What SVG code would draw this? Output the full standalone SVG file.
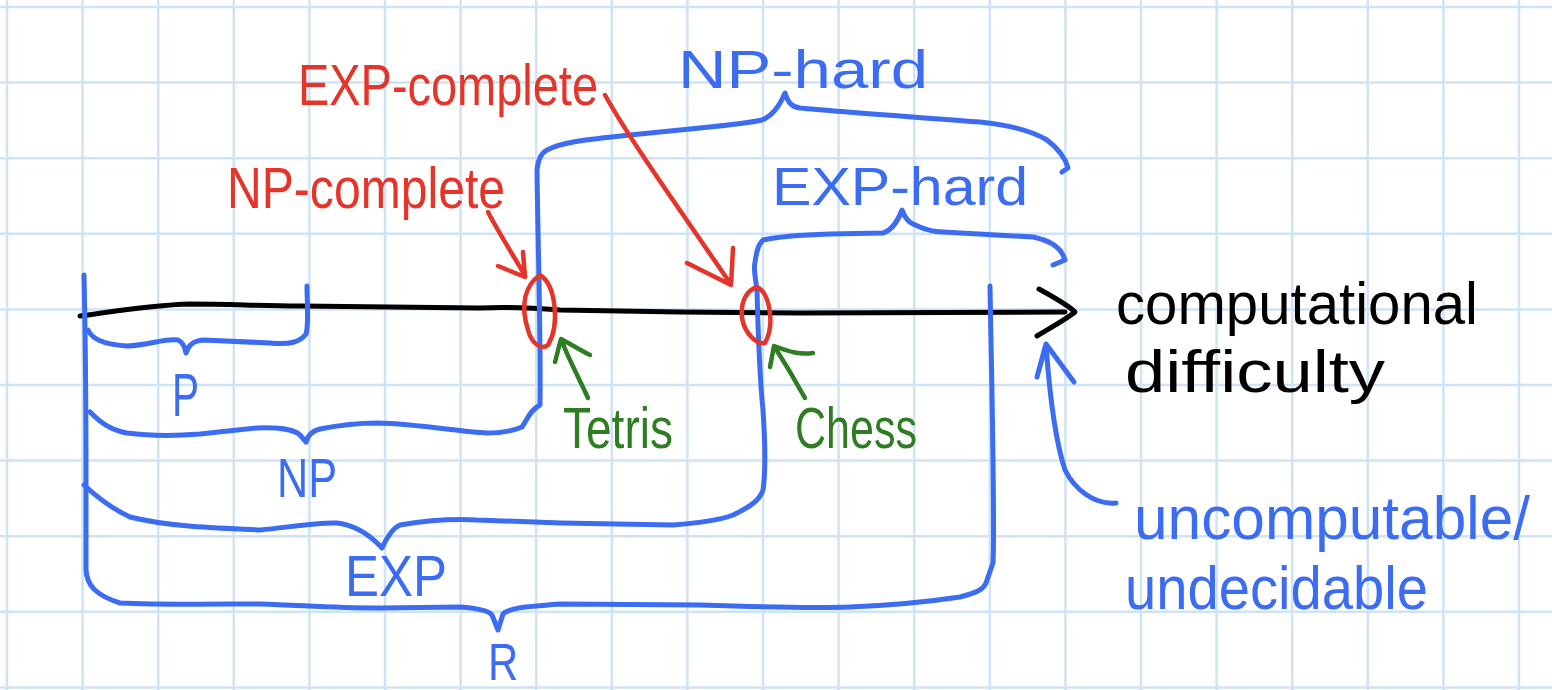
<svg xmlns="http://www.w3.org/2000/svg" width="1552" height="690" viewBox="0 0 1552 690">
<style>
.grid{stroke:#cfe3f6;stroke-width:2.5;fill:none}
.blue{stroke:#3b6cf2;stroke-width:5;fill:none;stroke-linecap:round;stroke-linejoin:round}
.red{stroke:#e5342a;stroke-width:4.5;fill:none;stroke-linecap:round;stroke-linejoin:round}
.green{stroke:#2e7d22;stroke-width:4.5;fill:none;stroke-linecap:round;stroke-linejoin:round}
.black{stroke:#000;stroke-width:5;fill:none;stroke-linecap:round;stroke-linejoin:round}
text{font-family:"Liberation Sans",Arial,sans-serif}
.tb{fill:#3b6cf2}.tr{fill:#e5342a}.tg{fill:#2e7d22}.tk{fill:#000}
</style>
<rect width="1552" height="690" fill="#fff"/>
<g id="grid">
<path class="grid" d="M7,0V690M82.6,0V690M158.2,0V690M233.8,0V690M309.4,0V690M385,0V690M460.6,0V690M536.2,0V690M611.8,0V690M687.4,0V690M763,0V690M838.6,0V690M914.2,0V690M989.8,0V690M1065.4,0V690M1141,0V690M1216.6,0V690M1292.2,0V690M1367.8,0V690M1443.4,0V690M1519,0V690M0,7H1552M0,82.6H1552M0,158.2H1552M0,233.8H1552M0,309.4H1552M0,385H1552M0,460.6H1552M0,536.2H1552M0,611.8H1552M0,687.4H1552"/>
</g>
<g id="connectors">
<path id="axis" class="black" d="M80,316 C110,312 150,305 190,304 C230,304 260,306 300,306 L480,308 C500,307 520,307 560,310 L680,312 L800,313 L1065,312"/>
<path id="axis-head" class="black" d="M1039,289 C1055,298 1068,305 1075,312 C1065,320 1050,328 1037,336"/>
<path id="bracket-R" class="blue" d="M84,275 C85,320 86,400 86,480 L86,570 C87,585 95,595 120,603 C160,605 220,604 260,604 C300,605 330,608 380,608 L460,607 C475,608 488,610 492,615 L498,630 L503,614 C510,608 520,607 560,604 L700,605 C760,607 820,608 850,607 C900,605 940,600 960,597 C975,593 985,590 987,580 L993,563 C995,520 992,400 990,286"/>
<path id="bracket-P" class="blue" d="M88,330 C92,338 100,344 127,346 C150,345 165,338 178,340 C183,342 185,348 186,353 C188,346 192,341 203,340 L270,343 C290,345 300,342 306,334 C309,325 307,300 307,286"/>
<path id="bracket-NP" class="blue" d="M90,412 C100,422 110,430 127,433 C150,436 175,436 200,434 L257,428 C280,427 295,430 300,435 L306,442 C308,435 312,431 320,429 C340,425 360,423 377,423 C420,424 460,432 487,433 C505,433 515,430 522,427 C527,420 530,410 540,405 C541,340 538,250 537,170 C538,160 541,153 547,150 C560,143 580,140 630,135 L700,128 C730,125 750,123 762,120 C772,116 780,105 785,93 C788,103 792,107 800,108 C830,111 900,116 980,122 C1010,125 1030,130 1047,140 C1060,150 1066,160 1068,168 L1062,172"/>
<path id="bracket-EXP" class="blue" d="M84,485 C100,500 115,510 130,517 C170,527 220,528 260,530 C290,527 320,522 337,523 C355,525 370,535 382,548 C388,535 395,527 400,525 C430,520 460,519 477,520 L560,523 L673,525 C700,523 720,520 733,515 C750,507 760,500 763,490 C766,470 765,440 763,410 C760,380 758,330 757,290 C756,280 753,270 755,262 C757,250 758,245 763,240 C780,236 800,235 830,234 L883,233 C893,230 898,220 902,210 C905,218 908,222 913,224 C925,230 935,232 943,232 L1033,237 C1048,240 1058,245 1063,255 L1065,260 L1053,265"/>
<path id="arrow-uncomputable" class="blue" d="M1116,503 C1095,505 1075,490 1065,470 C1055,440 1050,400 1046,345 M1037,377 L1046,344 L1074,382"/>
<path id="arrow-npc" class="red" d="M488,212 C500,235 515,258 524,274 M498,266 L525,277 L523,252"/>
<path id="arrow-expc" class="red" d="M605,95 C630,140 680,210 730,283 M687,263 L731,285 L733,248"/>
<path id="arrow-tetris" class="green" d="M588,398 C580,380 568,358 561,339 M555,362 L561,339 C572,345 582,351 590,355"/>
<path id="arrow-chess" class="green" d="M805,398 C795,380 783,360 774,346 M770,367 L774,346 C790,352 800,355 813,353"/>
</g>
<g id="np-complete-point"><path class="red" d="M540,275 C556,285 560,325 548,345 C542,350 532,345 528,330 C520,305 525,285 540,275 Z"/></g>
<g id="exp-complete-point"><path class="red" d="M757,287 C770,293 775,325 765,343 C758,345 745,335 742,318 C740,300 748,290 757,287 Z"/></g>
<g id="label-P"><text class="tb" x="172" y="416" font-size="62" textLength="27" lengthAdjust="spacingAndGlyphs">P</text></g>
<g id="label-NP"><text class="tb" x="277" y="497" font-size="56" textLength="60" lengthAdjust="spacingAndGlyphs">NP</text></g>
<g id="label-EXP"><text class="tb" x="345" y="596" font-size="58" textLength="102" lengthAdjust="spacingAndGlyphs">EXP</text></g>
<g id="label-R"><text class="tb" x="488" y="680" font-size="52" textLength="30" lengthAdjust="spacingAndGlyphs">R</text></g>
<g id="label-NP-hard"><text class="tb" x="678" y="88" font-size="54" textLength="250" lengthAdjust="spacingAndGlyphs">NP-hard</text></g>
<g id="label-EXP-hard"><text class="tb" x="772" y="205" font-size="54" textLength="256" lengthAdjust="spacingAndGlyphs">EXP-hard</text></g>
<g id="label-NP-complete"><text class="tr" x="227" y="208" font-size="58" textLength="278" lengthAdjust="spacingAndGlyphs">NP-complete</text></g>
<g id="label-EXP-complete"><text class="tr" x="298" y="105" font-size="58" textLength="300" lengthAdjust="spacingAndGlyphs">EXP-complete</text></g>
<g id="label-Tetris"><text class="tg" x="563" y="448" font-size="58" textLength="110" lengthAdjust="spacingAndGlyphs">Tetris</text></g>
<g id="label-Chess"><text class="tg" x="795" y="448" font-size="58" textLength="122" lengthAdjust="spacingAndGlyphs">Chess</text></g>
<g id="label-axis"><text class="tk" x="1116" y="324" font-size="60" textLength="362" lengthAdjust="spacingAndGlyphs">computational</text><text class="tk" x="1125" y="392" font-size="60" textLength="260" lengthAdjust="spacingAndGlyphs">difficulty</text></g>
<g id="label-uncomputable"><text class="tb" x="1134" y="539" font-size="62" textLength="396" lengthAdjust="spacingAndGlyphs">uncomputable/</text><text class="tb" x="1125" y="609" font-size="62" textLength="303" lengthAdjust="spacingAndGlyphs">undecidable</text></g>
</svg>
